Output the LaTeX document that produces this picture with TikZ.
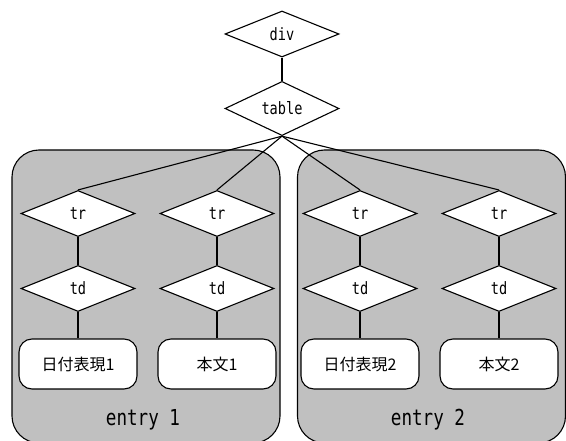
\documentclass[tikz,border=0pt]{standalone}
\usepackage{fontspec}
\newfontfamily\gothic[FakeStretch=0.8]{DejaVu Sans Mono}
\newfontfamily\jpfont{Noto Sans CJK JP}
\usetikzlibrary{shapes.geometric}
\definecolor{boxgray}{HTML}{C0C0C0}
\begin{document}
\begin{tikzpicture}[x=1pt,y=-1pt,
  line width=1.1pt,
  tag node/.style={diamond,draw,fill=white,inner sep=0pt,minimum width=114pt,minimum height=46pt,font=\gothic\fontsize{17}{17}\selectfont},
  text node/.style={rectangle,draw,fill=white,rounded corners=13pt,minimum width=118pt,minimum height=50pt,font=\jpfont\fontsize{16}{16}\selectfont},
  entry box/.style={rectangle,draw,fill=boxgray,rounded corners=27pt,minimum width=268pt,minimum height=293pt}]

  \useasboundingbox (0,0) rectangle (566,441);

  \node[entry box] (e1) at (146,296.5) {};
  \node[entry box] (e2) at (431.5,296.5) {};
  \node[font=\gothic\fontsize{22}{22}\selectfont] (l1) at (143,420) {entry 1};
  \node[font=\gothic\fontsize{22}{22}\selectfont] (l2) at (428,420) {entry 2};

  \node[tag node] (div) at (282,34) {div};
  \node[tag node] (tbl) at (282,108.5) {table};

  \node[tag node] (tr1) at (78,213.5) {tr};
  \node[tag node] (tr2) at (217,213.5) {tr};
  \node[tag node] (tr3) at (360,213.5) {tr};
  \node[tag node] (tr4) at (499,213.5) {tr};

  \node[tag node] (td1) at (78,288.5) {td};
  \node[tag node] (td2) at (217,288.5) {td};
  \node[tag node] (td3) at (360,288.5) {td};
  \node[tag node] (td4) at (499,288.5) {td};

  \node[text node] (t1) at (78,364) {日付表現1};
  \node[text node] (t2) at (217,364) {本文1};
  \node[text node] (t3) at (360,364) {日付表現2};
  \node[text node] (t4) at (499,364) {本文2};

  \path
   (div) edge (tbl)
   (tbl.south) edge (tr1.north)
   (tbl.south) edge (tr2.north)
   (tbl.south) edge (tr3.north)
   (tbl.south) edge (tr4.north)
   (tr1) edge (td1)
   (tr2) edge (td2)
   (tr3) edge (td3)
   (tr4) edge (td4)
   (td1) edge (t1)
   (td2) edge (t2)
   (td3) edge (t3)
   (td4) edge (t4);
\end{tikzpicture}
\end{document}
